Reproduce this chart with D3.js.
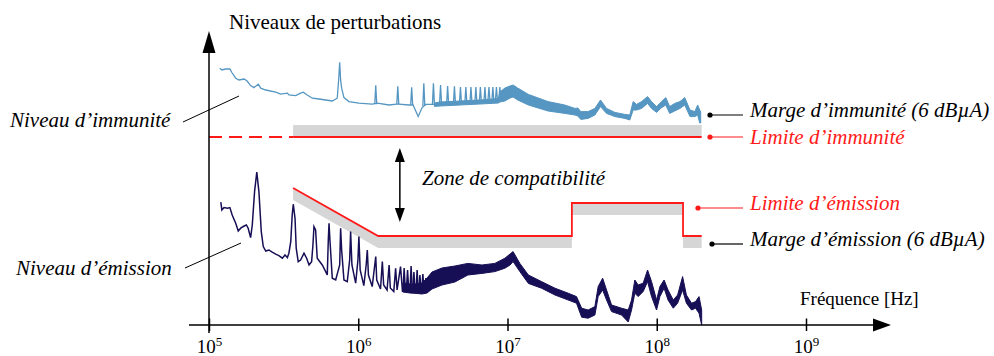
<!DOCTYPE html>
<html>
<head>
<meta charset="utf-8">
<script src="https://cdn.jsdelivr.net/npm/d3@7"></script>
<style>
  body { margin: 0; background: #fff; }
  svg { display: block; font-family: "Liberation Serif", "Times New Roman", serif; }
</style>
</head>
<body>
<div id="chart"></div>
<script>
// --- frequency ticks (Hz) ---
const tickFreqs = [1e5, 1e6, 1e7, 1e8, 1e9];
const tickExps = ["5", "6", "7", "8", "9"];

// --- immunity level (light blue trace), Hz / dB
const immF = [1.18e5,1.22e5,1.29e5,1.38e5,1.43e5,1.51e5,1.59e5,1.72e5,1.80e5,1.90e5,2.00e5,2.14e5,2.22e5,2.40e5,2.80e5,3.02e5,3.35e5,3.43e5,3.81e5,4.11e5,4.28e5,4.55e5,4.92e5,5.46e5,6.05e5,6.70e5,7.23e5,7.39e5,7.51e5,7.62e5,7.74e5,8.02e5,8.66e5,1.01e6,1.24e6,1.34e6,1.61e6,1.81e6,1.87e6,2.19e6,2.33e6,2.52e6,2.68e6,2.83e6,3.16e6,3.30e6];
const immV = [128.4,127.5,128,128,126,123.4,122.5,123,122,119.7,118.7,120.4,118.4,117.5,116.4,115.4,115.9,115,114.7,115.9,116.4,115,113.4,113,112.5,112,113.4,122.5,131.4,122.5,118.4,113.7,111.7,110.9,110.4,110.9,110,110.4,110.4,110,110,104.3,108.7,110.3,110.3,110.3];
// narrow harmonic peaks on the immunity trace
const immPeakF = [1.31e6,1.84e6,2.28e6,2.75e6,3.19e6,3.56e6,3.97e6,4.41e6,4.84e6,5.26e6,5.69e6,6.14e6,6.58e6,7.06e6,7.51e6,7.98e6,8.43e6,8.89e6];
const immPeakTop = [119.8,119.3,118.8,120.9,120.9,120,119.5,119.3,119,119,119,119,119,119,119,119,119,119];
const immPeakBase = [110.4,110.4,110,109.5,110.3,110.5,110.6,110.8,111,111,111.2,111.3,111.5,111.7,112,112,112.3,112.5];
// dense noisy part, upper / lower envelope
const immBandF = [3.24e6,3.53e6,4.80e6,6.53e6,8.70e6,8.89e6,9.61e6,1.04e7,1.09e7,1.17e7,1.38e7,1.87e7,2.42e7,2.83e7,2.96e7,3.10e7,3.47e7,3.85e7,4.20e7,4.61e7,5.24e7,6.12e7,6.60e7,6.95e7,7.32e7,7.91e7,8.68e7,9.23e7,9.97e7,1.07e8,1.15e8,1.22e8,1.32e8,1.43e8,1.54e8,1.67e8,1.80e8,1.88e8,1.94e8,1.97e8];
const immBandHi = [111,111.5,112,112.5,113.2,116.5,118.5,119.5,120,118.5,115.3,111.7,110,108.3,108.5,106.7,106.7,108.3,112.5,108.3,106.3,105.3,105,111.7,110.3,111.7,114.2,111.7,109.2,111.5,113.7,109.2,110.8,111.7,113.7,107.5,106.7,110,107.5,106.5];
const immBandLo = [109.3,109.5,110,110.5,111,111.5,112,113.5,114,112.5,110,107,105.8,105,104.5,102.8,103.3,105,109.2,105.8,104.2,103.3,102.5,107.5,107.5,108.3,110.8,108.3,106.3,108.5,110,105.8,107,108.3,110,104.2,104.2,105,101,101];

// --- emission level (navy trace)
const emiF = [1.20e5,1.22e5,1.26e5,1.33e5,1.38e5,1.43e5,1.51e5,1.57e5,1.63e5,1.72e5,1.78e5,1.83e5,1.90e5,1.95e5,2.02e5,2.09e5,2.16e5,2.24e5,2.31e5,2.40e5,2.52e5,2.65e5,2.80e5,2.94e5,3.10e5,3.23e5,3.35e5,3.43e5,3.53e5,3.61e5,3.67e5,3.77e5,3.84e5,3.96e5,4.11e5,4.33e5,4.51e5,4.68e5,4.87e5,4.97e5,5.05e5,5.18e5,5.31e5,5.74e5,6.05e5,6.20e5,6.30e5,6.37e5,6.46e5,6.70e5,7.06e5,7.51e5,7.62e5,7.74e5,8.02e5,8.44e5,8.76e5,8.89e5,9.07e5,9.61e5,9.95e5,1.01e6,1.03e6,1.09e6,1.13e6,1.15e6,1.17e6,1.24e6,1.29e6,1.31e6,1.33e6,1.41e6,1.45e6,1.48e6,1.56e6,1.61e6,1.64e6,1.73e6,1.78e6,1.82e6,1.92e6,1.98e6];
const emiV = [61.4,57.5,58.7,58.4,58.7,55,50.9,47,48.4,49.5,50,48.4,43.7,50,66.7,76.4,66.7,46.7,39.2,37,37.5,36.4,35.4,34.7,33.4,35,33.7,35.9,41.7,55,60.4,53.4,38.4,31.7,32.5,35.9,33.4,30,31.7,40,49.2,47.5,33.4,30,26.7,25,42.5,50.9,42.5,23.4,22.5,30,48.4,37.5,22.5,21.7,32.5,46.7,30,20.9,32.5,44.2,27.5,19.7,30,37.5,25,19.2,30,34.2,22.5,18,31.7,20,17.5,30,18.5,16.7,28.4,17.5,29.2,16.5];
// dense harmonic comb just above 2 MHz
const emiPeakF = [2.03e6,2.14e6,2.26e6,2.36e6,2.48e6,2.59e6,2.71e6,2.84e6];
const emiPeakTop = [28.5,27.5,29.5,26.5,27.5,25,25.5,23.5];
const emiPeakBase = [17,17,16.5,16.5,16,16,16,16];
const emiBandF = [1.99e6,2.22e6,2.44e6,2.67e6,2.89e6,3.12e6,3.64e6,4.44e6,5.43e6,6.74e6,8.23e6,9.61e6,1.04e7,1.09e7,1.21e7,1.38e7,1.69e7,2.08e7,2.55e7,2.90e7,3.14e7,3.47e7,3.85e7,4.05e7,4.34e7,4.61e7,4.98e7,5.81e7,6.44e7,6.78e7,7.13e7,7.51e7,8.11e7,8.68e7,9.23e7,9.97e7,1.05e8,1.12e8,1.19e8,1.29e8,1.38e8,1.49e8,1.58e8,1.71e8,1.82e8,1.92e8,2.00e8];
const emiBandHi = [21,20.5,20.5,21,23.5,26.5,28.5,29.5,30.8,30,30.8,33.4,35.5,36.7,30.8,25,21.7,18.4,15.9,14.2,8.4,7.5,9.2,19.2,23.4,17.5,10,8.4,7.5,12.5,22.5,20,20.9,27.5,21.7,12.5,19.2,22.5,17.5,12.5,15,24.2,15,10.9,11.7,14.2,7.5];
const emiBandLo = [16.5,16,15.8,15.5,16,18,20,21.5,25,25.8,26.7,28.4,30,31.7,26.7,20.8,18.4,15,12.5,10.9,3.9,3.4,5,14.2,17.5,12.5,6.7,5,1.5,7.5,15.9,14.2,16.7,21.7,14.2,7.5,14.2,18.4,12.5,8.4,10.9,17.5,10.9,7.5,8.4,5.9,0];

// --- limits (dB) and margins
const immLimF = [1e5, 3.66e5, 2e8];     // dashed up to the 2nd value, solid after
const immLimV = 94;
const emiLimF = [3.66e5, 1.36e6, 2.7e7, 2.7e7, 1.5e8, 1.5e8, 2e8];
const emiLimV = [68.5, 44.5, 44.5, 61, 61, 44.5, 44.5];
const margin6 = 6;
const zoneF = 1.9e6;

const width = 994, height = 356;
const red = "#ff1a1a", blue = "#5596c2", navy = "#170f55", grey = "#d6d6d6";

const x = d3.scaleLog().domain([1e5, 1e9]).range([209, 806]);
const y = d3.scaleLinear().domain([0, 147]).range([325, 31]);

const svg = d3.select("#chart").append("svg")
    .attr("width", width)
    .attr("height", height);

const line = d3.line().x(d => x(d[0])).y(d => y(d[1]));
const spike = (f, top, base, w) =>
    `M${x(f) - w},${y(base)}L${x(f)},${y(top)}L${x(f) + w},${y(base)}`;

// margin bands
svg.append("path")
    .datum(d3.zip(emiLimF, emiLimV))
    .attr("fill", grey)
    .attr("d", d3.area().x(d => x(d[0])).y0(d => y(d[1])).y1(d => y(d[1] - margin6)));
svg.append("path")
    .datum(immLimF.slice(1))
    .attr("fill", grey)
    .attr("d", d3.area().x(d => x(d)).y0(y(immLimV)).y1(y(immLimV + margin6)));

// limits
svg.append("path")
    .datum([[immLimF[0], immLimV], [immLimF[1], immLimV]])
    .attr("fill", "none").attr("stroke", red).attr("stroke-width", 1.8)
    .attr("stroke-dasharray", "13,7")
    .attr("d", line);
svg.append("path")
    .datum([[immLimF[1], immLimV], [immLimF[2], immLimV]])
    .attr("fill", "none").attr("stroke", red).attr("stroke-width", 1.8)
    .attr("d", line);
svg.append("path")
    .datum(d3.zip(emiLimF, emiLimV))
    .attr("fill", "none").attr("stroke", red).attr("stroke-width", 1.8)
    .attr("d", line);

// immunity trace
const immG = svg.append("g").attr("stroke", blue).attr("fill", "none").attr("stroke-width", 1.3);
immG.append("path").datum(d3.zip(immF, immV)).attr("d", line);
immG.selectAll(".spike")
    .data(d3.range(immPeakF.length))
    .join("path")
    .attr("class", "spike")
    .attr("d", i => spike(immPeakF[i], immPeakTop[i], immPeakBase[i], 1));
immG.append("path")
    .datum(d3.range(immBandF.length))
    .attr("fill", blue).attr("stroke-width", 1)
    .attr("d", d3.area().x(i => x(immBandF[i])).y0(i => y(immBandLo[i])).y1(i => y(immBandHi[i])));

// emission trace
const emiG = svg.append("g").attr("stroke", navy).attr("fill", "none").attr("stroke-width", 1.5);
emiG.append("path").datum(d3.zip(emiF, emiV)).attr("d", line);
emiG.selectAll(".spike")
    .data(d3.range(emiPeakF.length))
    .join("path")
    .attr("class", "spike")
    .attr("d", i => spike(emiPeakF[i], emiPeakTop[i], emiPeakBase[i], 1.2));
emiG.append("path")
    .datum(d3.range(emiBandF.length))
    .attr("fill", navy).attr("stroke-width", 1)
    .attr("d", d3.area().x(i => x(emiBandF[i])).y0(i => y(emiBandLo[i])).y1(i => y(emiBandHi[i])));

// axes
const x0 = x.range()[0], yAxis = y.range()[0];
svg.append("line").attr("x1", x0).attr("x2", x0).attr("y1", yAxis + 8).attr("y2", 50)
    .attr("stroke", "#000").attr("stroke-width", 1.5);
svg.append("path").attr("d", `M${x0},31L${x0 - 6.5},53L${x0 + 6.5},53Z`).attr("fill", "#000");
svg.append("line").attr("x1", 189).attr("x2", 876).attr("y1", yAxis).attr("y2", yAxis)
    .attr("stroke", "#000").attr("stroke-width", 1.5);
svg.append("path").attr("d", `M891,${yAxis}L873,${yAxis - 6.5}L873,${yAxis + 6.5}Z`).attr("fill", "#000");

const xAxis = svg.append("g")
    .attr("transform", `translate(0,${yAxis})`)
    .call(d3.axisBottom(x).tickValues(tickFreqs).tickSize(6).tickFormat(""))
    .call(g => g.select(".domain").remove())
    .call(g => g.selectAll(".tick line").attr("y1", -6.5).attr("stroke-width", 1.5));
xAxis.selectAll(".tick").each(function(d, i) {
    const t = d3.select(this).append("text")
        .attr("y", 28).attr("fill", "#000").attr("text-anchor", "middle")
        .attr("font-family", "Liberation Serif").attr("font-size", 19);
    t.append("tspan").text("10");
    t.append("tspan").attr("dy", -7).attr("font-size", 13).text(tickExps[i]);
});

svg.append("text").attr("x", 229).attr("y", 29).attr("font-size", 21).text("Niveaux de perturbations");
svg.append("text").attr("x", 800).attr("y", 305).attr("font-size", 19).text("Fréquence [Hz]");

// compatibility zone arrow
const zx = x(zoneF);
svg.append("line").attr("x1", zx).attr("x2", zx).attr("y1", y(immLimV) + 22).attr("y2", y(emiLimV[1]) - 24)
    .attr("stroke", "#000").attr("stroke-width", 1.5);
svg.append("path").attr("d", `M${zx},${y(immLimV) + 11}L${zx - 5},${y(immLimV) + 25}L${zx + 5},${y(immLimV) + 25}Z`);
svg.append("path").attr("d", `M${zx},${y(emiLimV[1]) - 14}L${zx - 5},${y(emiLimV[1]) - 28}L${zx + 5},${y(emiLimV[1]) - 28}Z`);
svg.append("text").attr("x", 422).attr("y", 185).attr("font-size", 21).attr("font-style", "italic")
    .text("Zone de compatibilité");

// left labels
svg.append("text").attr("x", 10).attr("y", 127).attr("font-size", 21).attr("font-style", "italic").text("Niveau d’immunité");
svg.append("line").attr("x1", 183).attr("y1", 122).attr("x2", 239).attr("y2", 96).attr("stroke", "#000").attr("stroke-width", 1);
svg.append("text").attr("x", 16).attr("y", 275).attr("font-size", 21).attr("font-style", "italic").text("Niveau d’émission");
svg.append("line").attr("x1", 185).attr("y1", 268).attr("x2", 241).attr("y2", 243).attr("stroke", "#000").attr("stroke-width", 1);

// right callouts
const callouts = [
    {text: "Marge d’immunité (6 dBµA)", color: "#000", dot: 710, cy: 115, ty: 117},
    {text: "Limite d’immunité", color: red, dot: 710, cy: 137, ty: 144},
    {text: "Limite d’émission", color: red, dot: 698, cy: 208, ty: 210},
    {text: "Marge d’émission (6 dBµA)", color: "#000", dot: 712, cy: 244, ty: 246}
];
const cg = svg.append("g").selectAll("g").data(callouts).join("g");
cg.append("circle").attr("cx", d => d.dot).attr("cy", d => d.cy).attr("r", 2.6).attr("fill", d => d.color);
cg.append("line").attr("x1", d => d.dot).attr("x2", 743).attr("y1", d => d.cy).attr("y2", d => d.cy)
    .attr("stroke", d => d.color).attr("stroke-width", 1.2);
cg.append("text").attr("x", 750).attr("y", d => d.ty).attr("font-size", 21).attr("font-style", "italic")
    .attr("fill", d => d.color).text(d => d.text);
</script>
</body>
</html>
